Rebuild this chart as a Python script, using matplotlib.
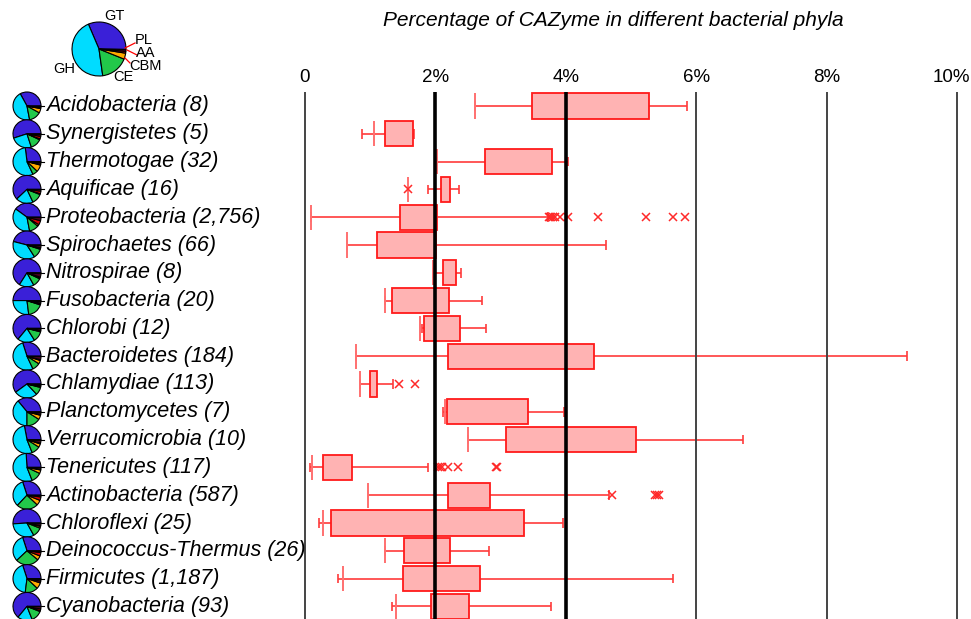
import matplotlib
matplotlib.use("Agg")
import matplotlib.pyplot as plt
import numpy as np

plt.rcParams['font.family'] = ['Liberation Sans', 'DejaVu Sans']

names = ["Acidobacteria (8)", "Synergistetes (5)", "Thermotogae (32)", "Aquificae (16)",
         "Proteobacteria (2,756)", "Spirochaetes (66)", "Nitrospirae (8)", "Fusobacteria (20)",
         "Chlorobi (12)", "Bacteroidetes (184)", "Chlamydiae (113)", "Planctomycetes (7)",
         "Verrucomicrobia (10)", "Tenericutes (117)", "Actinobacteria (587)", "Chloroflexi (25)",
         "Deinococcus-Thermus (26)", "Firmicutes (1,187)", "Cyanobacteria (93)"]

# box stats (% of genes)
whislo  = [2.61, 0.88, 2.02, 1.88, 0.09, 0.64, 1.97, 1.23, 1.79, 0.78, 0.84, 2.12, 2.50, 0.08, 0.97, 0.22, 1.23, 0.50, 1.33]
lowmark = [2.61, 1.06, 2.02, 1.58, 0.09, 0.64, 1.97, 1.23, 1.76, 0.78, 0.84, 2.14, 2.50, 0.10, 0.97, 0.27, 1.23, 0.59, 1.39]
q1      = [3.48, 1.23, 2.76, 2.08, 1.45, 1.10, 2.12, 1.34, 1.83, 2.20, 0.99, 2.18, 3.09, 0.28, 2.20, 0.40, 1.52, 1.51, 1.94]
q3      = [5.28, 1.65, 3.79, 2.23, 2.03, 2.01, 2.32, 2.21, 2.37, 4.43, 1.10, 3.42, 5.08, 0.72, 2.83, 3.36, 2.23, 2.69, 2.52]
whishi  = [5.86, 1.67, 4.04, 2.36, 3.72, 4.61, 2.39, 2.71, 2.78, 9.24, 1.35, 3.98, 6.72, 1.89, 4.66, 3.95, 2.82, 5.65, 3.78]
fliers = {
    3: [1.58],
    4: [3.74, 3.76, 3.78, 3.81, 3.84, 3.91, 4.04, 4.49, 5.23, 5.64, 5.83],
    10: [1.44, 1.68],
    13: [2.04, 2.07, 2.10, 2.20, 2.34, 2.93, 2.95],
    14: [4.71, 5.37, 5.40, 5.43],
}

# CAZyme class composition per phylum (%)
classes = ["GT", "GH", "CE", "CBM", "AA", "PL"]
gt  = [33, 55, 27, 62, 40, 46, 66, 50, 64, 30, 60, 36, 28, 26, 30, 51, 30, 30, 64]
gh  = [45, 25, 55, 20, 38, 38, 17, 27, 20, 52, 27, 39, 53, 55, 33, 32, 32, 43, 17]
ce  = [14, 13, 6, 12, 11, 11, 10, 18, 12, 9, 9, 16, 10, 12, 25, 11, 27, 15, 13]
cbm = [5, 1, 8, 1, 2, 1, 1, 1, 1, 4, 1, 5, 4, 4, 6, 2, 5, 7, 1]
aa  = [1, 3, 1, 3, 5, 1, 1, 1, 1, 1, 1, 1, 1, 1, 4, 1, 4, 2, 2]
pl  = [2, 3, 3, 2, 4, 3, 5, 3, 2, 4, 2, 3, 4, 2, 2, 3, 2, 3, 3]
overall = [31.7, 45.8, 16.7, 3.6, 1.1, 1.1]
colors = ['#3a20d8', '#00dcff', '#22c84a', '#ffaa00', '#d40000', '#4a0020']

ticks = [0, 2, 4, 6, 8, 10]
ticklabels = ["0", "2%", "4%", "6%", "8%", "10%"]

W, H = 971, 619
fig = plt.figure(figsize=(W / 100, H / 100), dpi=100)

# box plot axes
x0, x1 = -0.1, 10.15
left_px = 305 + 65.2 * x0
right_px = 305 + 65.2 * x1
ax = fig.add_axes([left_px / W, 0, (right_px - left_px) / W, (H - 92) / H])
n = len(names)
ypos = np.arange(n)
ax.barh(ypos, np.array(q3) - np.array(q1), left=q1, height=0.9,
        color='#ffb3b3', edgecolor='#ff1a1a', linewidth=1.3, zorder=3)
ax.hlines(ypos, whislo, q1, color='#ff3b3b', lw=1.2, zorder=2)
ax.hlines(ypos, q3, whishi, color='#ff3b3b', lw=1.2, zorder=2)
ax.vlines(whislo, ypos - 0.17, ypos + 0.17, color='#ff3b3b', lw=1.2, zorder=2)
ax.vlines(whishi, ypos - 0.17, ypos + 0.17, color='#ff3b3b', lw=1.2, zorder=2)
ax.vlines(lowmark, ypos - 0.45, ypos + 0.45, color='#ff7070', lw=1.4, zorder=2)
for i, fl in fliers.items():
    ax.plot(fl, [i] * len(fl), 'x', color='#ff2a2a', ms=6, mew=1.1, zorder=4)

for t in ticks:
    if t in (2, 4):
        ax.axvline(t, color='black', lw=2.6, zorder=5)
    else:
        ax.axvline(t, color='#444444', lw=1.4, zorder=5)

ax.set_xlim(x0, x1)
ax.set_ylim((619 - 106) / 27.8, (92 - 106) / 27.8)
ax.set_xticks([])
ax.set_yticks([])
for s in ax.spines.values():
    s.set_visible(False)

# top tick labels, the last one pulled in so it stays on the page
lab_x = [0, 2, 4, 6, 8, 9.92]
for t, lab in zip(lab_x, ticklabels):
    ax.text(t, 1 + 14 / (H - 92), lab, transform=ax.get_xaxis_transform(),
            ha='center', va='center', fontsize=13.5)

fig.text(613 / W, 1 - 21 / H, "Percentage of CAZyme in different bacterial phyla",
         ha='center', va='center', fontsize=15, style='italic')

# pies and labels, in pixel coordinates
pax = fig.add_axes([0, 0, 1, 1])
comp = np.array([gt, gh, ce, cbm, aa, pl]).T
for i in range(n):
    cy = H - (106 + 27.8 * i)
    pax.pie(comp[i], center=(27, cy), radius=14, startangle=0, colors=colors,
            wedgeprops=dict(edgecolor='black', linewidth=0.8))
    pax.plot([27, 44], [cy, cy], color='black', lw=0.8)
    pax.text(46, cy, names[i], ha='left', va='center', fontsize=15.5, style='italic')

pax.pie(overall, center=(99, H - 49), radius=27, startangle=-1, colors=colors,
        wedgeprops=dict(edgecolor='black', linewidth=0.8))
leg_pos = [(114, 16), (64, 69), (123, 77), (145, 66), (146, 53), (144, 40)]
for (lx, ly), c in zip(leg_pos, classes):
    pax.text(lx, H - ly, c, ha='center', va='center', fontsize=10.5)
for (sx, sy), (ex, ey) in [((125, 48), (135, 43)), ((127, 50), (137, 55)), ((125, 58), (130, 63))]:
    pax.plot([sx, ex], [H - sy, H - ey], color='red', lw=0.9)

pax.set_xlim(0, W)
pax.set_ylim(0, H)
pax.set_aspect('auto')
pax.axis('off')
pax.patch.set_alpha(0)

fig.savefig("out.png", dpi=100)
